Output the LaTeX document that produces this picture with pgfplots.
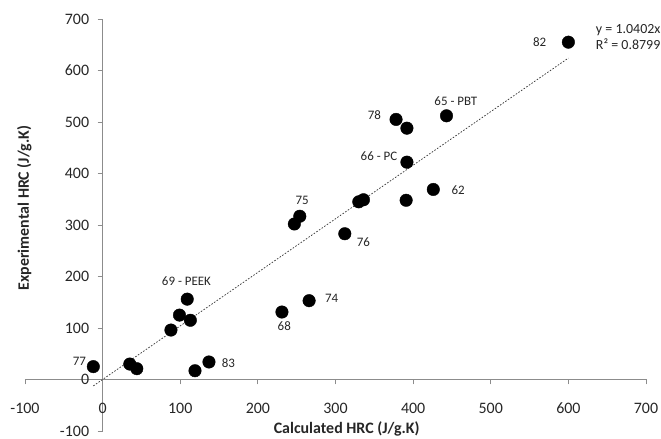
\documentclass[border=0pt]{standalone}
\usepackage{fontspec}
\setmainfont{Carlito}
\usepackage{pgfplots}
\pgfplotsset{compat=1.18}
\definecolor{axisgray}{HTML}{8C8C8C}
\definecolor{txt}{HTML}{262626}
\begin{document}
\begin{tikzpicture}
\begin{axis}[
  scale only axis, width=621bp, height=412bp,
  xmin=-100, xmax=700, ymin=-100, ymax=700,
  axis lines=middle,
  axis line style={draw=axisgray, line width=0.8pt, -},
  xtick={-100,0,...,700}, ytick={-100,0,...,700},
  hide obscured x ticks=false, hide obscured y ticks=false,
  tick style={draw=axisgray, line width=0.8pt},
  major tick length=5bp,
  tick align=outside,
  /pgf/number format/assume math mode=true,
  ticklabel style={font=\fontsize{16}{16}\selectfont, text=txt},
  xticklabel style={yshift=-15bp},
  yticklabel style={xshift=-5bp},
  xlabel={Calculated HRC (J/g.K)},
  ylabel={Experimental HRC (J/g.K)},
  label style={font=\bfseries\fontsize{16}{16}\selectfont, text=txt},
  xlabel style={at={(axis description cs:0.518,0.004)}, anchor=center},
  ylabel style={at={(axis description cs:-0.001,0.541)}, anchor=center, rotate=90},
  clip=false,
]
\addplot[only marks, mark=*, mark size=6.3pt, black] coordinates {
  (-12,25) (35,30) (44,21) (88,96) (99,125) (109,156) (113,115) (119,17) (137,34)
  (231,131) (266,153) (247,302) (254,317) (330,345) (336,349) (312,283)
  (391,348) (426,369) (392,422) (378,505) (392,488) (443,512) (600,655)
};
\addplot[gray!40!black, line width=0.7pt, dash pattern=on 1.6pt off 1.6pt] coordinates {(-12,-12.48) (600,624.12)};
\begin{scope}[every node/.style={font=\fontsize{13}{13}\selectfont, text=txt}]
\node at (axis cs:-30,35) {77};
\node at (axis cs:108,191) {69 - PEEK};
\node at (axis cs:162,32) {83};
\node at (axis cs:234,103) {68};
\node at (axis cs:295,157) {74};
\node at (axis cs:336,267) {76};
\node at (axis cs:257,348) {75};
\node at (axis cs:356,434) {66 - PC};
\node at (axis cs:350,513) {78};
\node at (axis cs:455,541) {65 - PBT};
\node at (axis cs:458,368) {62};
\node at (axis cs:563,656) {82};
\end{scope}
\node[anchor=west, align=left, font=\fontsize{14}{16}\selectfont, text=txt] at (axis cs:631,665) {y = 1.0402x\\R² = 0.8799};
\end{axis}
\pgfresetboundingbox
\path ([xshift=-25bp,yshift=-8bp]current axis.south west) rectangle ([xshift=15bp,yshift=19bp]current axis.north east);
\end{tikzpicture}
\end{document}
